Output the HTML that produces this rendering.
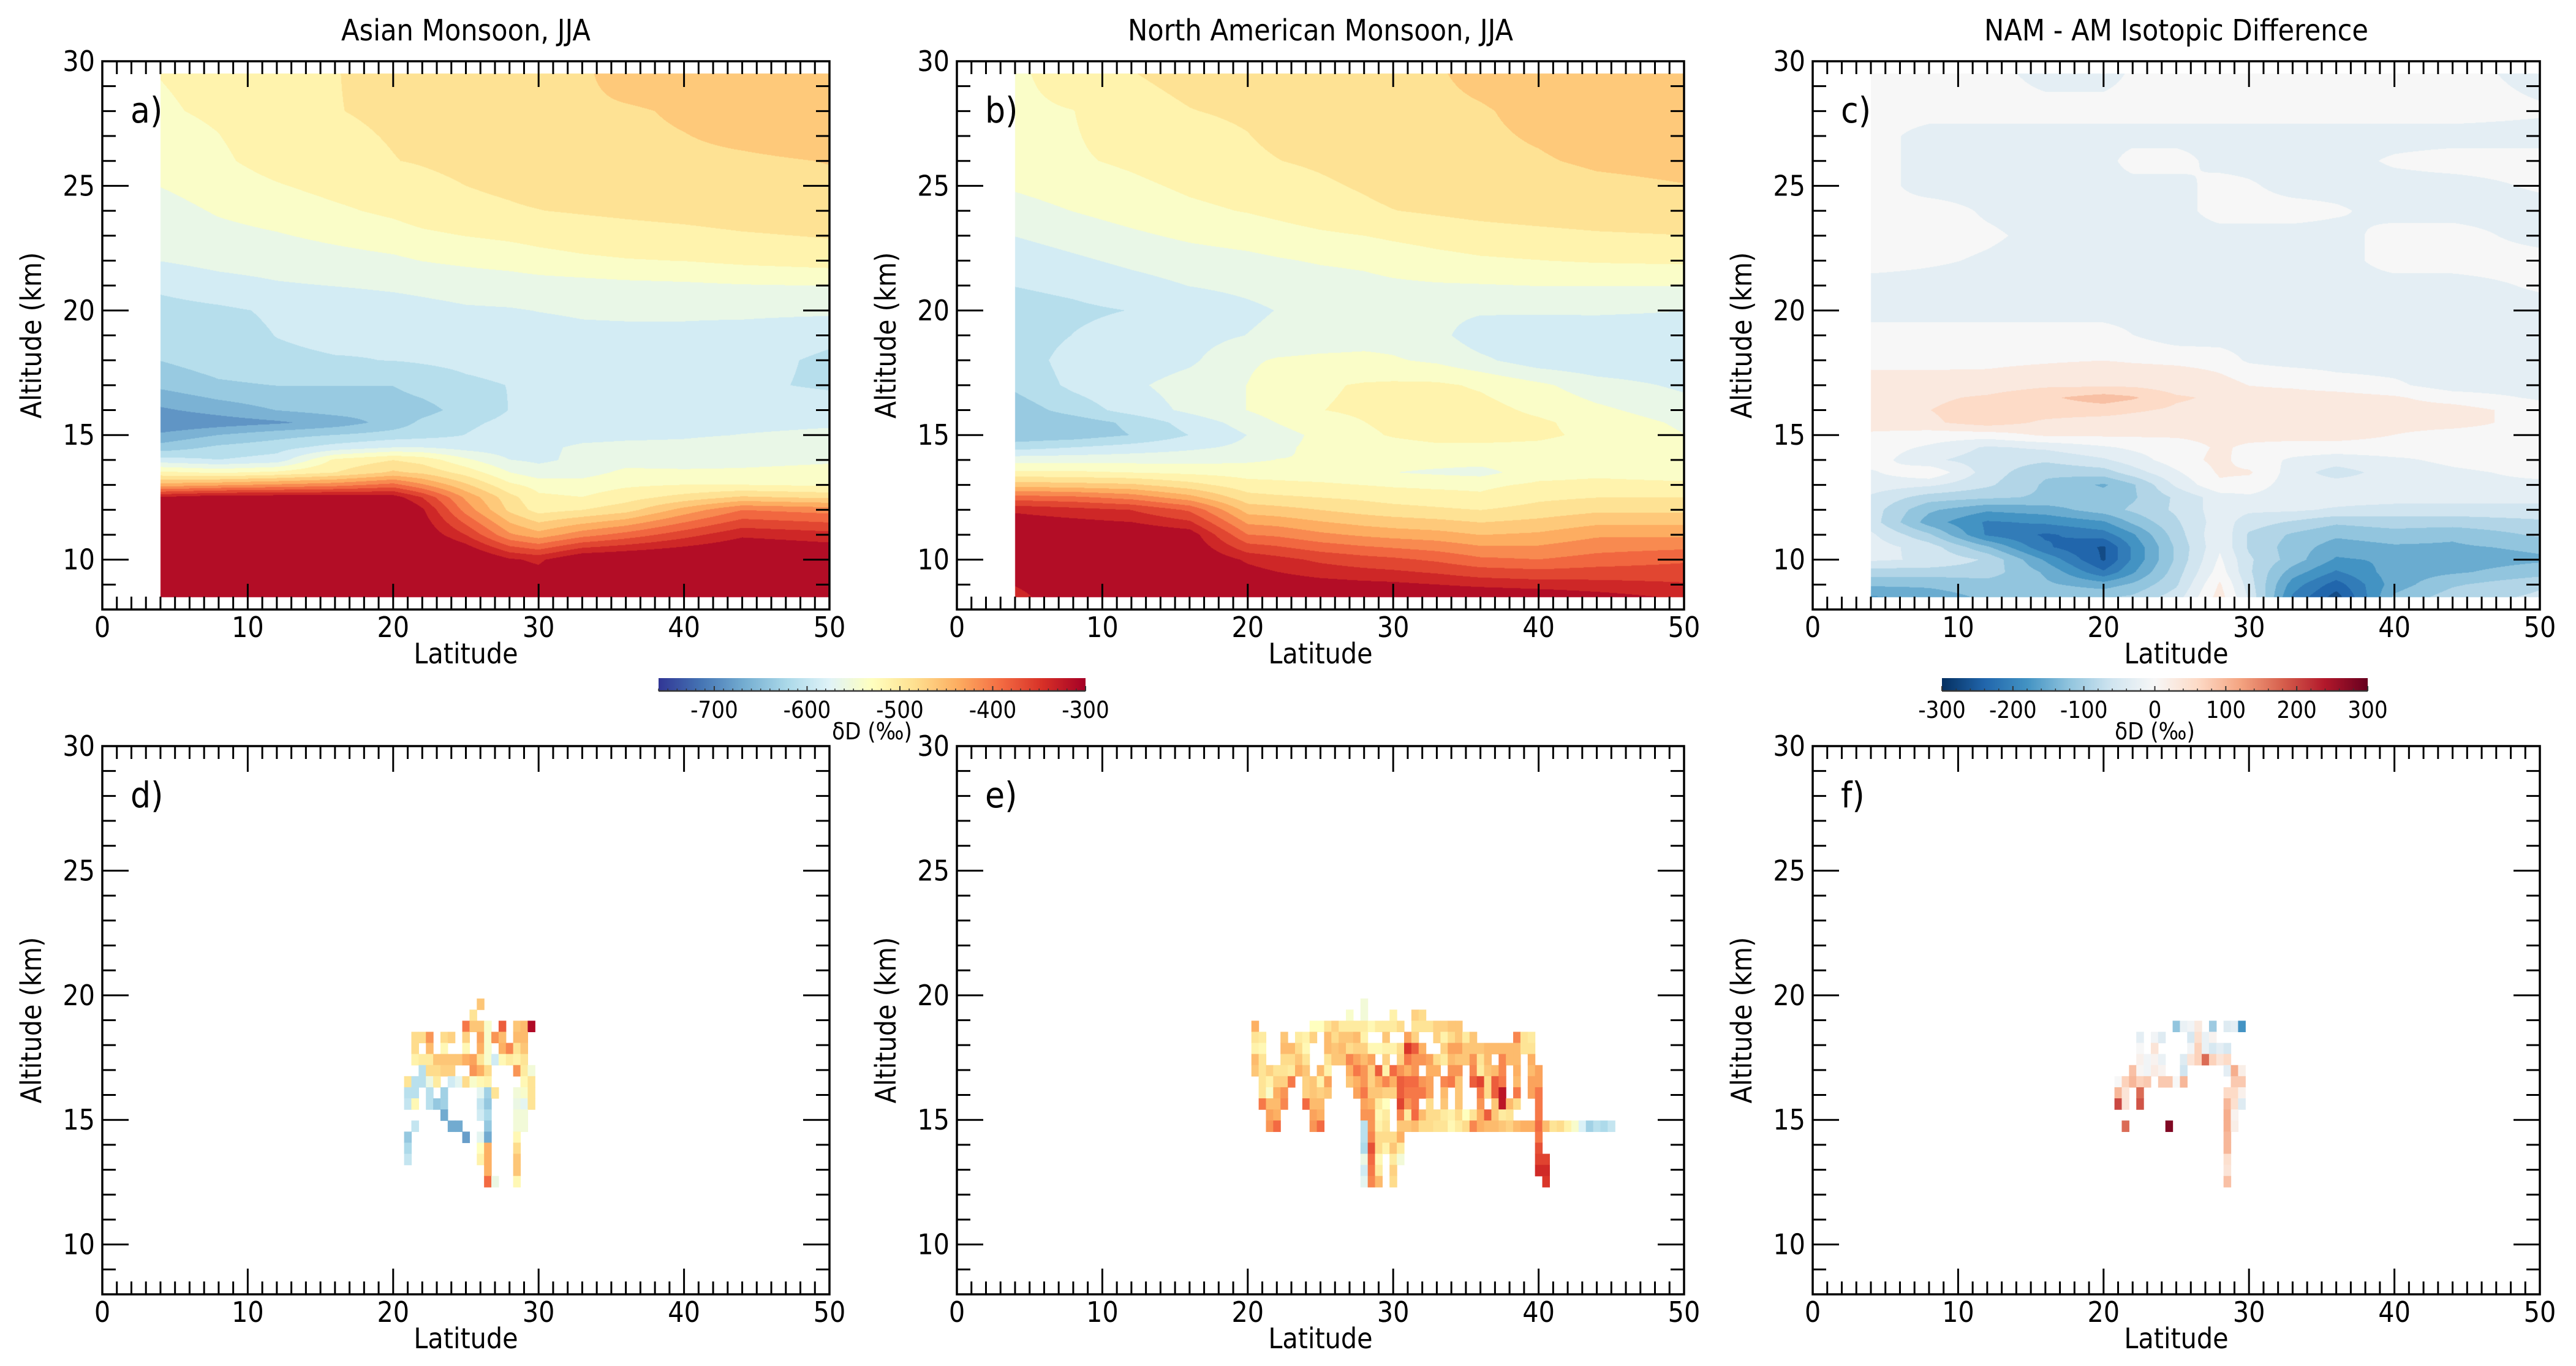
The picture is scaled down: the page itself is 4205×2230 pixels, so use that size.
<!DOCTYPE html>
<html><head><meta charset="utf-8"><title>Monsoon isotopic cross sections</title>
<style>
html,body{margin:0;padding:0;background:#fff;}
#root{position:relative;width:4205px;height:2230px;background:#fff;overflow:hidden;font-family:"DejaVu Sans Condensed","DejaVu Sans","Liberation Sans",sans-serif;}
canvas{position:absolute;}
svg{position:absolute;left:0;top:0;}
</style></head>
<body>
<div id="root">
<canvas id="cv-a"></canvas>
<canvas id="cv-b"></canvas>
<canvas id="cv-c"></canvas>
<canvas id="cb-1"></canvas>
<canvas id="cb-2"></canvas>
<svg id="ov" width="4205" height="2230"></svg>
</div>
<script>
// ---------- data ----------
const LAT=[4,8,12,16,20,22,25,28,30,33,36,40,44,50];
const ALT_AB=[8.5,10,11,12,12.5,13,13.5,14,14.5,15,15.5,16,17,18,19,20,21,22,24,26,28,29.5];
const amValues=[
[-250,-250,-250,-250,-250,-260,-270,-290,-290,-270,-260,-260,-260,-260],
[-250,-250,-250,-250,-250,-260,-280,-320,-330,-295,-290,-285,-280,-290],
[-250,-250,-250,-250,-250,-300,-350,-420,-440,-410,-390,-360,-330,-340],
[-250,-250,-250,-255,-270,-320,-410,-480,-510,-500,-485,-440,-400,-410],
[-320,-305,-305,-305,-310,-350,-430,-490,-520,-525,-510,-490,-470,-480],
[-440,-430,-420,-410,-390,-420,-470,-520,-535,-540,-530,-525,-525,-530],
[-520,-530,-520,-500,-470,-480,-510,-550,-565,-560,-545,-545,-545,-540],
[-590,-600,-590,-520,-500,-510,-545,-575,-580,-570,-560,-565,-560,-555],
[-640,-620,-610,-590,-575,-575,-585,-590,-580,-572,-570,-570,-565,-560],
[-670,-650,-635,-625,-615,-610,-600,-590,-585,-582,-580,-578,-575,-572],
[-700,-690,-680,-665,-640,-620,-605,-595,-590,-588,-586,-583,-580,-578],
[-680,-665,-650,-640,-640,-635,-615,-600,-595,-592,-588,-585,-583,-583],
[-645,-630,-625,-625,-625,-615,-605,-600,-596,-590,-585,-585,-595,-605],
[-625,-612,-605,-602,-600,-598,-595,-592,-588,-585,-583,-583,-592,-605],
[-615,-610,-600,-595,-598,-592,-588,-585,-583,-580,-580,-580,-585,-595],
[-610,-605,-597,-590,-585,-582,-578,-577,-575,-573,-572,-572,-570,-570],
[-595,-585,-578,-575,-572,-570,-567,-565,-562,-560,-557,-555,-552,-550],
[-575,-568,-565,-560,-555,-550,-545,-540,-535,-530,-527,-525,-520,-515],
[-560,-548,-540,-530,-520,-512,-505,-502,-500,-497,-494,-490,-485,-480],
[-540,-530,-515,-505,-500,-498,-494,-490,-485,-482,-479,-478,-477,-474],
[-528,-522,-510,-500,-497,-495,-490,-484,-480,-478,-477,-472,-465,-458],
[-525,-520,-505,-500,-495,-490,-485,-485,-485,-478,-465,-462,-458,-455]];
const namValues=[
[-340,-290,-285,-285,-290,-295,-295,-295,-295,-298,-300,-305,-315,-330],
[-290,-290,-290,-295,-330,-340,-355,-365,-370,-380,-395,-400,-390,-380],
[-295,-297,-300,-310,-400,-405,-420,-430,-435,-440,-450,-445,-430,-430],
[-330,-340,-350,-380,-460,-465,-475,-485,-490,-495,-500,-490,-480,-480],
[-390,-395,-410,-440,-490,-495,-500,-505,-510,-515,-520,-505,-500,-500],
[-460,-465,-470,-490,-515,-518,-520,-525,-528,-530,-530,-520,-518,-520],
[-520,-520,-525,-530,-535,-535,-540,-545,-550,-555,-560,-535,-530,-535],
[-560,-560,-560,-560,-555,-550,-550,-545,-540,-540,-540,-535,-535,-540],
[-610,-600,-590,-580,-570,-555,-545,-540,-535,-530,-530,-530,-535,-545],
[-645,-640,-625,-600,-575,-560,-545,-530,-522,-515,-515,-520,-530,-550],
[-650,-640,-620,-590,-565,-550,-535,-525,-518,-512,-512,-520,-535,-555],
[-640,-615,-590,-570,-550,-538,-525,-520,-515,-512,-515,-530,-545,-565],
[-620,-595,-580,-565,-550,-535,-528,-522,-520,-520,-528,-545,-565,-580],
[-615,-590,-590,-580,-555,-548,-545,-545,-548,-555,-570,-590,-595,-595],
[-615,-600,-590,-585,-575,-570,-565,-560,-560,-568,-590,-592,-590,-590],
[-610,-605,-600,-590,-580,-575,-570,-565,-565,-568,-572,-572,-572,-575],
[-600,-595,-585,-575,-570,-567,-562,-558,-555,-553,-552,-550,-550,-550],
[-590,-580,-570,-562,-557,-553,-548,-545,-540,-533,-528,-525,-522,-520],
[-560,-550,-540,-530,-523,-518,-510,-504,-500,-496,-492,-488,-484,-480],
[-535,-528,-520,-510,-503,-500,-496,-490,-485,-480,-478,-476,-472,-470],
[-530,-525,-505,-500,-497,-492,-487,-482,-480,-478,-476,-470,-464,-462],
[-530,-510,-500,-495,-490,-485,-480,-478,-478,-476,-470,-465,-462,-462]];
const ALT_C=[8.5,9,9.5,10,10.5,11,11.5,12,12.5,13,13.5,14,14.5,15,15.5,16,16.5,17,17.5,18,19,20,21,22,23,24,25,26,27,28,29.5];
const diffValues=[
[-170,-150,-130,-110,-110,-100,-60,30,-50,-200,-270,-130,-90,-70],
[-130,-130,-120,-130,-150,-130,-80,20,-60,-180,-240,-150,-110,-80],
[-90,-90,-90,-140,-220,-170,-90,0,-70,-150,-200,-150,-140,-120],
[-40,-50,-80,-170,-260,-190,-100,-10,-70,-120,-170,-160,-150,-140],
[-30,-60,-130,-220,-260,-190,-100,-20,-80,-120,-150,-140,-140,-130],
[-40,-100,-200,-230,-210,-170,-90,-20,-80,-110,-130,-120,-130,-100],
[-60,-150,-200,-190,-170,-130,-80,-30,-60,-80,-100,-90,-90,-80],
[-60,-130,-160,-150,-120,-100,-70,-30,-40,-40,-50,-60,-60,-60],
[-50,-90,-100,-110,-120,-110,-70,-30,-20,-30,-30,-30,-30,-30],
[-30,-40,-70,-110,-140,-110,-40,10,0,-30,-30,-30,-20,-20],
[-20,10,-60,-100,-90,-60,-20,20,20,-30,-60,-30,-20,-10],
[0,-40,-60,-70,-50,-30,0,25,0,-20,-30,-20,-10,0],
[0,-20,-50,-40,-20,-10,0,20,10,0,0,0,-10,-10],
[10,0,0,20,20,20,20,25,25,30,30,15,0,0],
[30,40,60,40,30,30,30,30,30,30,30,30,30,0],
[30,45,60,60,60,50,40,35,30,30,30,30,30,0],
[30,40,50,70,90,80,50,40,30,30,30,20,0,-20],
[30,30,30,40,40,40,30,30,15,10,0,-10,-30,-30],
[20,20,20,30,40,35,30,15,0,-5,-15,-20,-30,-30],
[0,0,5,10,15,10,5,0,-20,-30,-30,-30,-30,-30],
[0,0,0,0,0,-15,-30,-30,-30,-30,-30,-30,-30,-30],
[-30,-30,-30,-30,-30,-30,-30,-30,-30,-30,-30,-30,-30,-30],
[-30,-30,-30,-30,-30,-30,-30,-30,-30,-30,-30,-30,-30,-10],
[0,-10,-20,-30,-30,-30,-30,-30,-30,-30,-30,0,0,0],
[0,0,-10,-25,-30,-30,-30,-30,-30,-30,-30,0,0,-30],
[-10,0,-20,-30,-30,-30,-30,0,0,0,-10,-30,-30,-30],
[0,-30,-30,-30,-30,-30,-30,0,-10,-30,-30,-30,-30,-10],
[0,-30,-30,-30,-30,0,0,-30,-30,-30,-30,-10,0,0],
[0,-30,-30,-30,-30,-30,-30,-30,-30,-30,-30,-30,-30,-30],
[0,0,0,0,0,0,0,0,0,0,0,0,0,-10],
[0,0,0,-30,-30,-10,0,0,0,0,0,0,0,-30]];
// observation cells: row index (from top), then pairs [column, value]
const cellAltTop=19.87, cellDAlt=0.445, cellDLat=0.5;
const dLat0=20.75, eLat0=20.25, fLat0=20.75;
const dRows=[
[10,-460],[9,-490],
[8,-400,9,-460,10,-460,11,-540,13,-380,15,-460,16,-450,17,-310],
[1,-480,2,-480,3,-420,5,-480,6,-470,8,-470,10,-430,11,-540,12,-420,13,-450,15,-450,16,-450],
[1,-480,3,-450,5,-520,8,-520,10,-440,11,-540,13,-440,14,-410,15,-490,16,-460],
[1,-510,2,-500,3,-500,4,-460,5,-460,6,-460,7,-460,8,-440,9,-430,10,-490,11,-540,12,-590,13,-520,14,-500,15,-510,16,-490],
[2,-610,3,-480,4,-480,5,-470,6,-470,9,-420,10,-440,11,-480,15,-420,16,-500,17,-550],
[0,-490,1,-610,2,-610,3,-560,4,-500,6,-590,7,-570,8,-480,9,-540,10,-520,11,-510,16,-520,17,-490],
[0,-610,1,-610,3,-610,5,-630,10,-570,11,-630,12,-490,15,-550,16,-540,17,-490],
[0,-600,1,-520,3,-610,4,-640,5,-630,10,-600,11,-640,15,-560,16,-570,17,-490],
[5,-670,10,-590,11,-620,15,-550,16,-550],
[1,-600,6,-670,7,-670,11,-640,15,-550,16,-550],
[0,-640,8,-680,10,-570,11,-670,15,-520],
[0,-620,10,-530,11,-440,15,-480],
[0,-600,10,-510,11,-440,15,-460],
[11,-440,15,-460],
[11,-390,12,-560,15,-520]];
const eRows=[
[15,-550],
[13,-540,15,-550,19,-510,22,-470,23,-480],
[0,-440,8,-530,9,-530,10,-490,11,-470,12,-500,13,-500,14,-500,15,-500,16,-520,17,-500,18,-500,19,-500,20,-480,22,-490,23,-490,24,-490,25,-470,26,-470,27,-460,28,-460],
[0,-490,1,-500,4,-460,6,-500,7,-510,8,-470,10,-450,11,-480,12,-460,13,-460,14,-450,15,-510,18,-460,21,-430,22,-470,25,-470,26,-510,27,-480,28,-460,29,-500,30,-460,36,-410,37,-490,38,-500],
[0,-510,1,-520,4,-450,5,-450,6,-480,7,-520,10,-450,11,-460,12,-450,13,-480,14,-470,15,-470,16,-520,17,-520,18,-510,19,-510,20,-480,21,-350,22,-380,23,-440,26,-470,27,-430,28,-430,29,-460,30,-460,31,-460,32,-450,33,-450,34,-450,35,-450,36,-450,37,-490,38,-490],
[0,-450,1,-490,4,-480,5,-480,6,-460,7,-490,10,-490,11,-460,12,-460,13,-410,14,-430,15,-450,16,-430,18,-470,20,-470,21,-400,22,-420,23,-420,24,-430,25,-480,26,-500,27,-450,28,-460,29,-460,30,-420,31,-490,32,-450,34,-410,35,-450,36,-450,38,-440],
[0,-460,1,-490,2,-470,3,-490,4,-490,5,-500,6,-440,7,-460,9,-450,10,-510,13,-440,14,-400,15,-420,16,-470,17,-380,18,-510,19,-390,20,-420,21,-440,22,-420,24,-440,25,-440,27,-420,28,-420,30,-410,31,-500,32,-460,33,-450,34,-410,36,-440,38,-450,39,-430],
[1,-490,2,-510,3,-470,4,-470,5,-400,7,-470,8,-460,9,-510,10,-430,13,-460,14,-440,15,-420,16,-470,17,-440,18,-410,19,-440,20,-380,21,-390,22,-390,23,-420,24,-430,26,-410,27,-400,28,-460,30,-380,31,-360,32,-480,33,-380,34,-400,36,-450,38,-430,39,-430],
[1,-490,2,-540,3,-440,4,-420,7,-470,8,-460,9,-470,10,-460,14,-430,15,-400,16,-460,17,-460,18,-470,19,-470,20,-380,21,-400,22,-400,23,-400,24,-430,26,-450,28,-460,31,-400,32,-480,33,-380,34,-320,36,-400,38,-430,39,-400],
[1,-400,2,-450,3,-450,4,-410,7,-390,8,-450,9,-450,15,-430,16,-440,17,-500,18,-530,20,-360,21,-420,22,-400,24,-480,26,-460,28,-460,31,-420,33,-460,34,-320,35,-450,36,-480,39,-400],
[2,-430,3,-440,8,-430,9,-440,15,-420,16,-420,17,-520,18,-500,20,-410,21,-500,22,-390,23,-450,24,-480,25,-480,26,-500,27,-510,28,-480,29,-530,30,-490,31,-440,32,-380,33,-460,34,-500,35,-490,39,-400],
[2,-420,3,-390,8,-420,9,-390,15,-610,16,-420,17,-510,18,-490,20,-460,21,-460,22,-450,23,-480,24,-480,25,-490,26,-490,27,-520,28,-500,29,-480,30,-410,31,-440,32,-450,33,-450,34,-460,35,-470,36,-450,37,-440,38,-440,39,-390,40,-450,41,-490,42,-480,43,-510,44,-540,45,-580,46,-630,47,-610,48,-620,49,-600],
[15,-610,16,-410,17,-480,18,-480,19,-480,20,-440,39,-400],
[15,-620,16,-370,17,-480,18,-510,19,-460,20,-500,39,-370],
[15,-560,16,-390,17,-520,19,-500,20,-550,39,-360,40,-360],
[15,-590,16,-400,17,-500,19,-470,39,-340,40,-340],
[15,-570,16,-410,17,-450,19,-480,40,-350]];
const fRows=[
[],[],
[8,-120,9,-20,10,-10,11,30,13,-110,15,-40,16,-30,17,-180],
[3,-30,5,-10,6,-40,10,-50,11,50,12,-20,13,10],
[3,0,5,40,10,-10,11,70,12,-20,13,-50,14,-30,15,-50],
[3,15,4,-10,5,10,6,-20,9,-40,10,40,11,70,12,170,13,70,14,40,15,60],
[2,90,3,5,4,-10,5,25,6,10,9,-60,15,-30,16,110,17,20],
[0,0,1,70,2,100,3,70,4,80,6,80,7,80,8,0,9,100,16,80,17,80],
[0,100,1,40,3,170,15,60,16,60,17,15],
[0,200,1,40,3,190,15,100,16,50,17,-40],
[15,110,16,10],
[1,170,7,280,15,110,16,20],
[15,100],[15,100],[15,50],[15,40],[15,90]];
const ddTicks=[-700,-600,-500,-400,-300];
const diffTicks=[-300,-200,-100,0,100,200,300];
const xTicks=[0,10,20,30,40,50];
const yTicks=[10,15,20,25,30];

// ---------- layout ----------
const W=1187,H=895;
const panels=[
 {id:'a',left:167,top:100,title:'Asian Monsoon, JJA'},
 {id:'b',left:1562,top:100,title:'North American Monsoon, JJA'},
 {id:'c',left:2959,top:100,title:'NAM - AM Isotopic Difference'},
 {id:'d',left:167,top:1218,title:''},
 {id:'e',left:1562,top:1218,title:''},
 {id:'f',left:2959,top:1218,title:''}];
function xS(p,lat){return p.left+lat/50*W;}
function yS(p,alt){return p.top+(30-alt)/22*H;}

// ---------- colormaps ----------
const RdYlBu_r=['#313695','#4575b4','#74add1','#abd9e9','#e0f3f8','#ffffbf','#fee090','#fdae61','#f46d43','#d73027','#a50026'];
const RdBu_r=['#053061','#2166ac','#4393c3','#92c5de','#d1e5f0','#f7f7f7','#fddbc7','#f4a582','#d6604d','#b2182b','#67001f'];
function hex(h){return [parseInt(h.substr(1,2),16),parseInt(h.substr(3,2),16),parseInt(h.substr(5,2),16)];}
function cmap(stops,t){t=Math.max(0,Math.min(1,t));const n=stops.length-1;const f=t*n;let i=Math.floor(f);if(i>=n)i=n-1;const u=f-i;const a=hex(stops[i]),b=hex(stops[i+1]);return [a[0]+(b[0]-a[0])*u,a[1]+(b[1]-a[1])*u,a[2]+(b[2]-a[2])*u];}
const DDMIN=-760,DDMAX=-300;
function ddNorm(v){return (v-DDMIN)/(DDMAX-DDMIN);}
function diffNorm(v){return (v+300)/600;}
function ddBand(v){let k=Math.floor((v+775)/25);k=Math.max(0,Math.min(18,k));const mid=-775+25*k+12.5;return cmap(RdYlBu_r,ddNorm(mid));}
function diffBand(v){let k=Math.round(v/30);k=Math.max(-10,Math.min(10,k));return cmap(RdBu_r,diffNorm(k*30));}
function rgbStr(c){return 'rgb('+Math.round(c[0])+','+Math.round(c[1])+','+Math.round(c[2])+')';}

// ---------- contour field rendering ----------
function idx(arr,v){for(let i=0;i<arr.length-1;i++){if(v<=arr[i+1])return i;}return arr.length-2;}
function drawField(cid,p,lats,alts,vals,band){
 const cv=document.getElementById(cid);cv.width=W;cv.height=H;cv.style.left=p.left+'px';cv.style.top=p.top+'px';
 const ctx=cv.getContext('2d');const img=ctx.createImageData(W,H);const d=img.data;
 const cache={};
 for(let y=0;y<H;y++){
  const alt=30-(y+0.5)/H*22;if(alt<alts[0]||alt>alts[alts.length-1])continue;
  const j=idx(alts,alt);const v=(alt-alts[j])/(alts[j+1]-alts[j]);
  for(let x=0;x<W;x++){
   const lat=(x+0.5)/W*50;if(lat<lats[0])continue;
   const i=idx(lats,lat);const u=(lat-lats[i])/(lats[i+1]-lats[i]);
   const z=(1-u)*(1-v)*vals[j][i]+u*(1-v)*vals[j][i+1]+(1-u)*v*vals[j+1][i]+u*v*vals[j+1][i+1];
   const key=Math.round(z);let c=cache[key];if(!c){c=band(z);cache[key]=c;}
   const o=(y*W+x)*4;d[o]=c[0];d[o+1]=c[1];d[o+2]=c[2];d[o+3]=255;
  }
 }
 ctx.putImageData(img,0,0);
}
drawField('cv-a',panels[0],LAT,ALT_AB,amValues,ddBand);
drawField('cv-b',panels[1],LAT,ALT_AB,namValues,ddBand);
drawField('cv-c',panels[2],LAT,ALT_C,diffValues,diffBand);

// ---------- colorbars ----------
function drawCbar(cid,x0,x1,y0,y1,stops){
 const cv=document.getElementById(cid);cv.width=x1-x0;cv.height=y1-y0;cv.style.left=x0+'px';cv.style.top=y0+'px';
 const ctx=cv.getContext('2d');
 for(let x=0;x<cv.width;x++){ctx.fillStyle=rgbStr(cmap(stops,(x+0.5)/cv.width));ctx.fillRect(x,0,1,cv.height);}
}
const CB1={x0:1075,x1:1772,y0:1107,y1:1128,min:DDMIN,max:DDMAX};
const CB2={x0:3170,x1:3865,y0:1107,y1:1128,min:-300,max:300};
drawCbar('cb-1',CB1.x0,CB1.x1,CB1.y0,CB1.y1,RdYlBu_r);
drawCbar('cb-2',CB2.x0,CB2.x1,CB2.y0,CB2.y1,RdBu_r);

// ---------- SVG overlay ----------
const NS='http://www.w3.org/2000/svg';
const ov=document.getElementById('ov');
function el(tag,attrs,parent){const e=document.createElementNS(NS,tag);for(const k in attrs)e.setAttribute(k,attrs[k]);(parent||ov).appendChild(e);return e;}
function txt(s,x,y,size,anchor,parent){const t=el('text',{x:x,y:y,'font-size':size,'text-anchor':anchor||'middle',fill:'#000'},parent);t.textContent=s;return t;}

panels.forEach(function(p,pi){
 const g=el('g',{});
 
 
 const rowsSet={d:[dRows,dLat0,RdYlBu_r,ddNorm],e:[eRows,eLat0,RdYlBu_r,ddNorm],f:[fRows,fLat0,RdBu_r,diffNorm]}[p.id];
 if(rowsSet){
  const cg=el('g',{},g);
  
  
  const rows=rowsSet[0],lat0=rowsSet[1],stops=rowsSet[2],norm=rowsSet[3];
  rows.forEach(function(row,r){
   for(let k=0;k<row.length;k+=2){
    const c=row[k],v=row[k+1];
    const la=lat0+c*cellDLat,at=cellAltTop-r*cellDAlt;
    const x0=xS(p,la),x1=xS(p,la+cellDLat),y0=yS(p,at),y1=yS(p,at-cellDAlt);
    const rc=el('rect',{x:x0,y:y0,width:x1-x0+0.6,height:y1-y0+0.6,fill:rgbStr(cmap(stops,norm(v)))},cg);
    
    
   }
  });
 }
 const fr=el('rect',{x:p.left,y:p.top,width:W,height:H,fill:'none',stroke:'#000','stroke-width':3.5},g);
 
 
 const tg=el('g',{stroke:'#000','stroke-width':3},g);
 
 
 for(let lat=0;lat<=50;lat++){
  const x=xS(p,lat);const len=(lat%10===0)?42:21;
  el('line',{x1:x,y1:p.top+H,x2:x,y2:p.top+H-len},tg);
  el('line',{x1:x,y1:p.top,x2:x,y2:p.top+len},tg);
 }
 for(let alt=8;alt<=30;alt++){
  const y=yS(p,alt);const len=(alt%5===0)?43:22;
  el('line',{x1:p.left,y1:y,x2:p.left+len,y2:y},tg);
  el('line',{x1:p.left+W,y1:y,x2:p.left+W-len,y2:y},tg);
 }
 const lg=el('g',{},g);
 
 
 xTicks.forEach(function(t){txt(String(t),xS(p,t),p.top+H+45,46,'middle',lg);});
 yTicks.forEach(function(t){txt(String(t),p.left-12,yS(p,t)+16,46,'end',lg);});
 const xl=txt('Latitude',p.left+W/2,p.top+H+88,46,'middle',g);
 
 
 const yl=txt('Altitude (km)',0,0,46,'middle',g);
 yl.setAttribute('transform','translate('+(p.left-100)+','+(p.top+H/2)+') rotate(-90)');
 
 
 const pl=txt(p.id+')',p.left+46,p.top+100,58,'start',g);
 
 
 if(p.title){
  const ti=txt(p.title,p.left+W/2,66,48,'middle',g);
  
  
 }
});

function cbarAxis(cb,ticks,minorStep,label){
 const g=el('g',{});
 
 
 const sx=function(v){return cb.x0+(v-cb.min)/(cb.max-cb.min)*(cb.x1-cb.x0);};
 el('line',{x1:cb.x0,y1:cb.y1,x2:cb.x1,y2:cb.y1,stroke:'#333','stroke-width':2.5},g);
 const start=Math.ceil(cb.min/minorStep)*minorStep;
 for(let v=start;v<=cb.max;v+=minorStep){el('line',{x1:sx(v),y1:cb.y1,x2:sx(v),y2:cb.y1-4,stroke:'#333','stroke-width':1.5},g);}
 ticks.forEach(function(t){el('line',{x1:sx(t),y1:cb.y1,x2:sx(t),y2:cb.y1-8,stroke:'#333','stroke-width':2},g);txt(String(t),sx(t),cb.y1+44,38,'middle',g);});
 const l=txt(label,(cb.x0+cb.x1)/2,cb.y1+79,38,'middle',g);
 
 
}
cbarAxis(CB1,ddTicks,10,'δD (‰)');
cbarAxis(CB2,diffTicks,20,'δD (‰)');
</script>
</body></html>
